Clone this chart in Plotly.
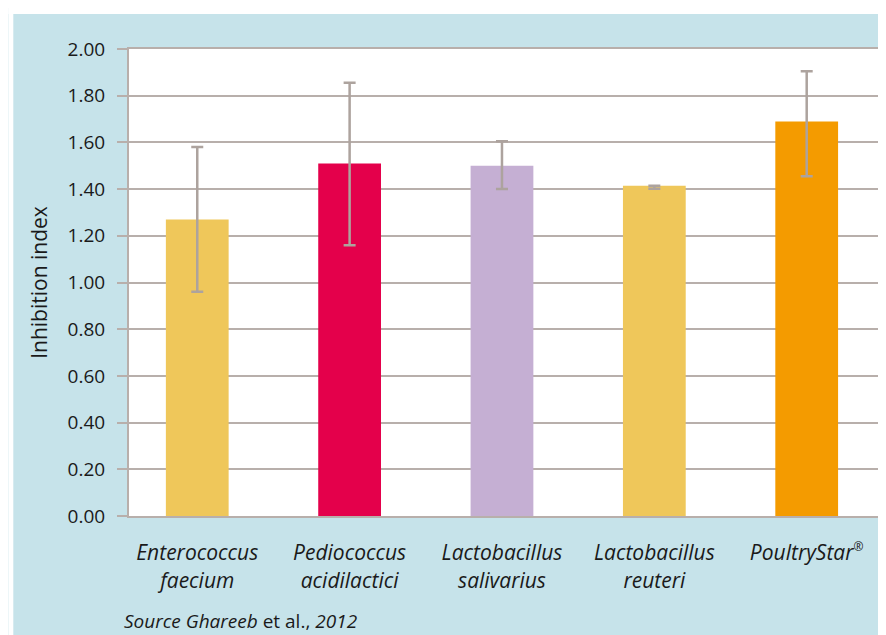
import plotly.graph_objects as go

categories = ["<i>Enterococcus<br>faecium</i>", "<i>Pediococcus<br>acidilactici</i>",
              "<i>Lactobacillus<br>salivarius</i>", "<i>Lactobacillus<br>reuteri</i>",
              "<i>PoultryStar</i><sup><span style='font-size:12px'>®</span></sup>"]
values = [1.27, 1.51, 1.50, 1.414, 1.69]
err_plus = [0.31, 0.345, 0.105, 0.0, 0.215]
err_minus = [0.31, 0.35, 0.10, 0.013, 0.235]
colors = ["#EFC75A", "#E4004B", "#C5AFD3", "#EFC75A", "#F49B00"]
y_ticks = [0, 0.2, 0.4, 0.6, 0.8, 1.0, 1.2, 1.4, 1.6, 1.8, 2.0]

# page body has an 8px margin, so the figure is placed at (8, 8)
OFF = 8
W, H = 886 - OFF, 635 - OFF
L, R, T, B = 129 - OFF, 6, 49 - OFF, 119
pw, ph = W - L - R, H - T - B

fig = go.Figure(go.Bar(
    x=categories, y=values, marker=dict(color=colors, line=dict(width=0)),
    width=0.412,
    error_y=dict(type="data", symmetric=False, array=err_plus, arrayminus=err_minus,
                 color="#ADA39E", thickness=2.5, width=6),
))

grid = "#B8AFAB"
strip_top = 14 - OFF
strip_left = 13 - OFF
fig.update_layout(
    width=W, height=H, margin=dict(l=L, r=R, t=T, b=B),
    paper_bgcolor="#C6E3EA", plot_bgcolor="white",
    font=dict(family="Open Sans", color="#1a1a1a"),
    showlegend=False,
    xaxis=dict(showline=True, linecolor=grid, linewidth=2, mirror=True,
               range=[-0.448, 4.468],
               ticks="", tickfont=dict(size=21), ticklabelstandoff=17),
    yaxis=dict(range=[0, 2.0], tickvals=y_ticks, ticktext=[f"{v:.2f}" for v in y_ticks],
               showgrid=True, gridcolor=grid, gridwidth=1.5,
               showline=True, linecolor=grid, linewidth=2, mirror=True,
               ticks="outside", ticklen=10, tickcolor=grid, tickwidth=1.5,
               ticklabelstandoff=8,
               tickfont=dict(size=19), zeroline=False,
               title=dict(text="Inhibition index", font=dict(size=21), standoff=14)),
    shapes=[
        dict(type="rect", xref="paper", yref="paper",
             x0=-L / pw, x1=(W - L) / pw, y0=(ph + T - strip_top) / ph, y1=(ph + T) / ph,
             fillcolor="white", line=dict(width=0), layer="below"),
        dict(type="rect", xref="paper", yref="paper",
             x0=-L / pw, x1=(strip_left - L) / pw, y0=-B / ph, y1=(ph + T) / ph,
             fillcolor="white", line=dict(width=0), layer="below"),
    ],
    annotations=[dict(text="<i>Source Ghareeb</i> et al., <i>2012</i>", xref="paper", yref="paper",
                      x=(122 - OFF - L) / pw, y=(ph + T - (621 - OFF)) / ph,
                      xanchor="left", yanchor="middle",
                      showarrow=False, font=dict(size=19))],
)

fig.write_html("out.html")
